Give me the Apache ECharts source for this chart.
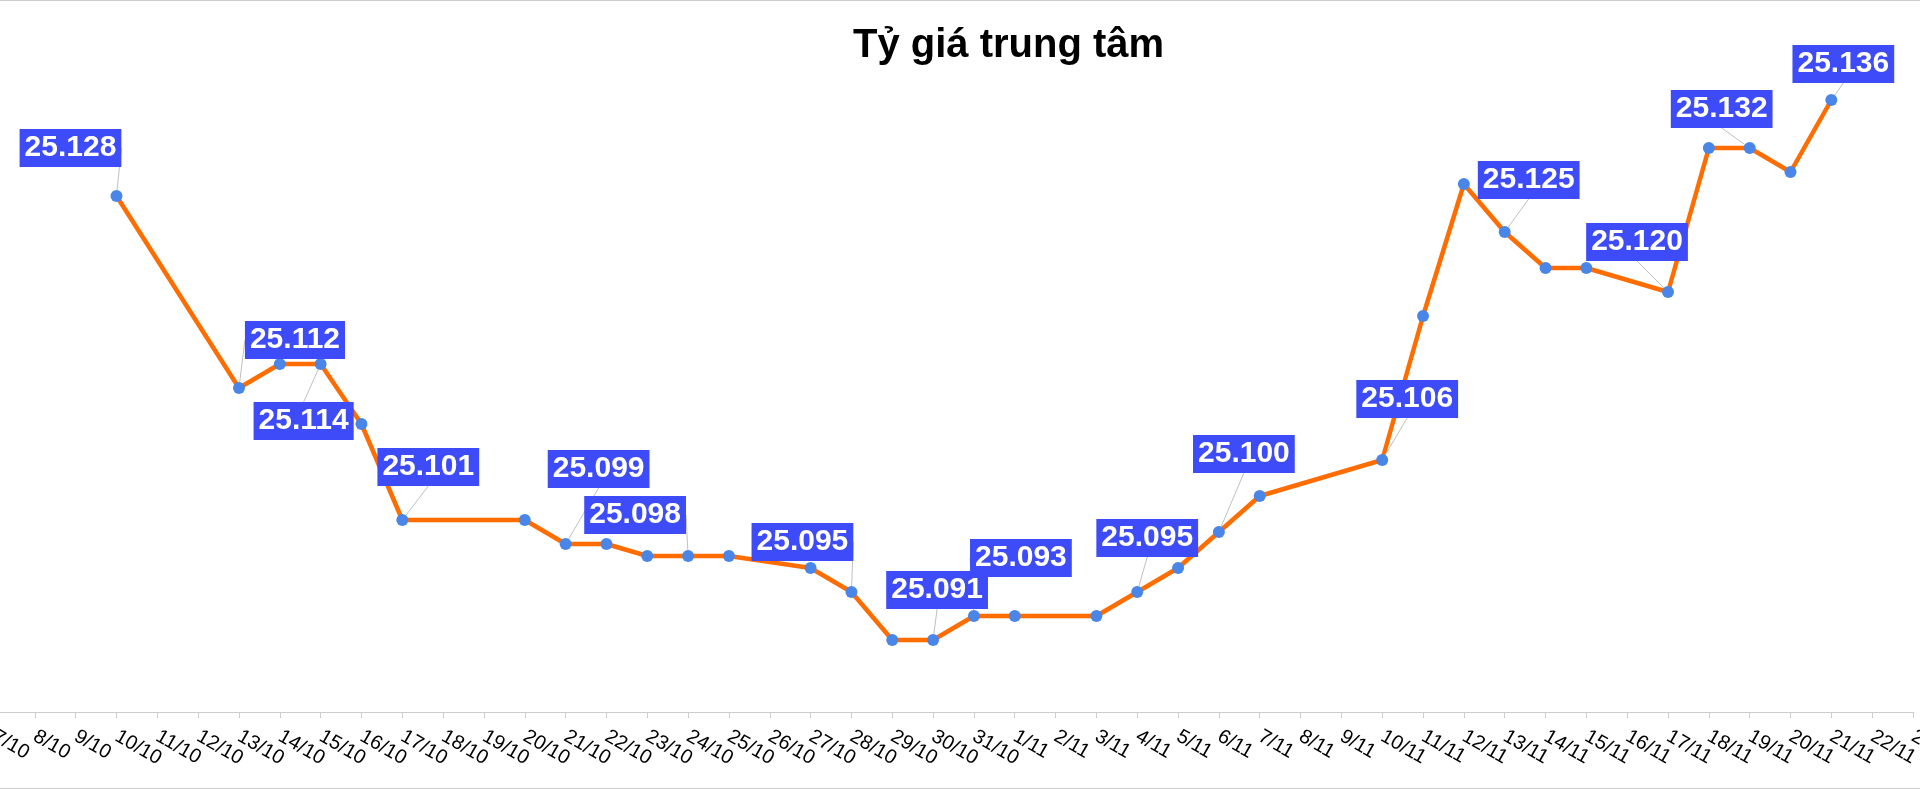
<!DOCTYPE html>
<html>
<head>
<meta charset="utf-8">
<script src="https://cdn.jsdelivr.net/npm/echarts@6/dist/echarts.min.js"></script>
<style>
html,body{margin:0;padding:0;background:#fff;}
#chart{width:1920px;height:789px;}
</style>
</head>
<body>
<div id="chart"></div>
<script>
// ---- data ----
const titleText = 'Tỷ giá trung tâm';
const categories = [
  '7/10','8/10','9/10','10/10','11/10','12/10','13/10','14/10','15/10','16/10',
  '17/10','18/10','19/10','20/10','21/10','22/10','23/10','24/10','25/10','26/10',
  '27/10','28/10','29/10','30/10','31/10','1/11','2/11','3/11','4/11','5/11',
  '6/11','7/11','8/11','9/11','10/11','11/11','12/11','13/11','14/11','15/11',
  '16/11','17/11','18/11','19/11','20/11','21/11','22/11','23/11'
];
const rates = [
  null, null, null, 25.128, null, null, 25.112, 25.114, 25.114, 25.109,
  25.101, null, null, 25.101, 25.099, 25.099, 25.098, 25.098, 25.098, null,
  25.097, 25.095, 25.091, 25.091, 25.093, 25.093, null, 25.093, 25.095, 25.097,
  25.100, 25.103, null, null, 25.106, 25.118, 25.129, 25.125, 25.122, 25.122,
  null, 25.120, 25.132, 25.132, 25.130, 25.136, null, null
];
const labeledDates = ['10/10','13/10','15/10','17/10','21/10','24/10','28/10','30/10',
  '31/10','4/11','6/11','10/11','13/11','17/11','19/11','21/11'];

// ---- presentation (label placement offsets, px) ----
const labelOffsets = {
  '10/10': [-46, -48], '13/10': [56, -48], '15/10': [-17, 57], '17/10': [26, -53],
  '21/10': [33, -75], '24/10': [-53, -41], '28/10': [-49, -50], '30/10': [4, -50],
  '31/10': [47, -58], '4/11': [10, -54], '6/11': [25, -78], '10/11': [25, -61],
  '13/11': [24, -52], '17/11': [-31, -50], '19/11': [-28, -39], '21/11': [12, -36]
};

const seriesData = rates.map((v, i) => {
  if (v === null) return '-';
  const show = labeledDates.indexOf(categories[i]) >= 0;
  return { value: v, label: { show: show } };
});

const chart = echarts.init(document.getElementById('chart'), null, { renderer: 'canvas' });
const FONT = "'Liberation Sans', Arial, sans-serif";
chart.setOption({
  backgroundColor: '#ffffff',
  animation: false,
  title: {
    text: titleText,
    left: 848,
    top: 21,
    textStyle: { fontFamily: FONT, fontSize: 40, fontWeight: 'bold', color: '#000' }
  },
  graphic: [
    { type: 'line', shape: { x1: 0, y1: 0.5, x2: 1920, y2: 0.5 }, style: { stroke: '#cccccc', lineWidth: 1 } },
    { type: 'line', shape: { x1: 0, y1: 788.5, x2: 1920, y2: 788.5 }, style: { stroke: '#cccccc', lineWidth: 1 } }
  ],
  grid: { left: -6, right: 7, top: 52, bottom: 77, containLabel: false, outerBoundsMode: 'none' },
  xAxis: {
    type: 'category',
    data: categories,
    boundaryGap: false,
    axisLine: { show: true, lineStyle: { color: '#cccccc', width: 1 } },
    axisTick: { show: true, length: 6, lineStyle: { color: '#cccccc' } },
    axisLabel: {
      interval: 0, rotate: -30, margin: 23,
      fontFamily: FONT, fontSize: 20, color: '#000'
    },
    splitLine: { show: false }
  },
  yAxis: {
    type: 'value', min: 25.085, max: 25.140, show: false,
    splitLine: { show: false }
  },
  series: [{
    type: 'line',
    data: seriesData,
    connectNulls: true,
    symbol: 'circle',
    symbolSize: 12,
    showAllSymbol: true,
    lineStyle: { color: '#ff6d00', width: 4.5 },
    itemStyle: { color: '#4a86e8' },
    label: {
      show: false,
      position: 'inside',
      formatter: p => Number(p.value).toFixed(3),
      fontFamily: FONT, fontSize: 30, fontWeight: 'bold', color: '#ffffff',
      backgroundColor: '#3d4cf8', padding: [4, 5], lineHeight: 30
    },
    labelLine: { show: true, lineStyle: { color: '#c0c0c0', width: 1 } },
    labelLayout: function (params) {
      const off = labelOffsets[categories[params.dataIndex]];
      return off ? { dx: off[0], dy: off[1] } : {};
    }
  }]
});
</script>
</body>
</html>
